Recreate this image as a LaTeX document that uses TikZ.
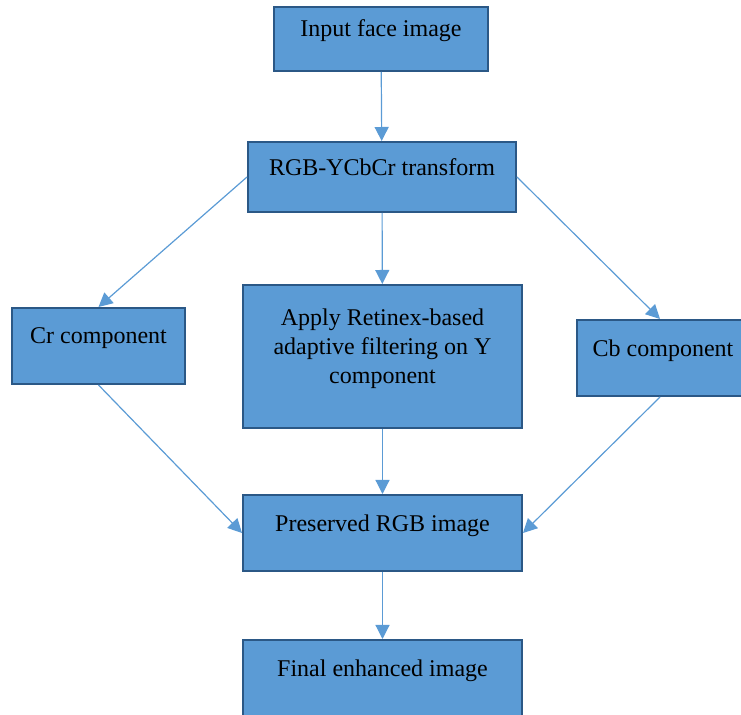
\documentclass[tikz,border=0pt]{standalone}
\usepackage{fontspec}
\setmainfont{Liberation Serif}
\usepackage{tikz}
\usetikzlibrary{positioning}
\usetikzlibrary{arrows.meta}
\definecolor{boxfill}{HTML}{5B9BD5}
\definecolor{boxline}{HTML}{2B5886}
\definecolor{arrcol}{HTML}{5B9BD5}
\tikzset{box/.style={draw=boxline,fill=boxfill,line width=1pt,inner sep=0pt}}
\tikzset{lbl/.style={inner sep=0pt,anchor=north,align=center,font=\fontsize{12}{14.5}\selectfont}}
\tikzset{arr/.style={draw=arrcol,line width=0.6pt,-{Triangle[length=7pt,width=7pt]}}}

\begin{document}
\begin{tikzpicture}[x=0.5pt,y=-0.5pt]
                \useasboundingbox (0,0) rectangle (741,715);
                \clip (0,0) rectangle (741,715);

                \node[box,minimum width=107pt,minimum height=32pt] (input) at (381,39) {};
                \node[box,minimum width=134pt,minimum height=35pt] (rgb) at (382,177) {};
                \node[box,minimum width=86.5pt,minimum height=38pt] (cr) at (98.5,346) {};
                \node[box,minimum width=139.5pt,minimum height=71.5pt] (ret) at (382.5,356.5) {};
                \node[box,minimum width=83pt,minimum height=38pt] (cb) at (660,358) {};
                \node[box,minimum width=139.5pt,minimum height=38pt] (pres) at (382.5,533) {};
                \node[box,minimum width=139.5pt,minimum height=38pt] (final) at (382.5,678) {};

                \node[lbl,below=6.5pt of input.north] (inputtxt) {Input face image};
                \node[lbl,below=8.5pt of rgb.north] (rgbtxt) {RGB-YCbCr transform};
                \node[lbl,below=10pt of cr.north] (crtxt) {Cr component};
                \node[lbl,below=12pt of ret.north] (rettxt) {Apply Retinex-based\\adaptive filtering on Y\\component};
                \node[lbl,below=10pt of cb.north,xshift=1.5pt] (cbtxt) {Cb component};
                \node[lbl,below=10pt of pres.north] (prestxt) {Preserved RGB image};
                \node[lbl,below=10pt of final.north] (finaltxt) {Final enhanced image};

                \draw[arr] (input) -- (rgb);
                \draw[arr] (rgb.west) -- (cr.north);
                \draw[arr] (rgb) -- (ret);
                \draw[arr] (rgb.east) -- (cb.north);
                \draw[arr] (cr.south) -- (pres.west);
                \draw[arr] (ret) -- (pres);
                \draw[arr] (cb.south) -- (pres.east);
                \draw[arr] (pres) -- (final);
            \end{tikzpicture}
\end{document}
